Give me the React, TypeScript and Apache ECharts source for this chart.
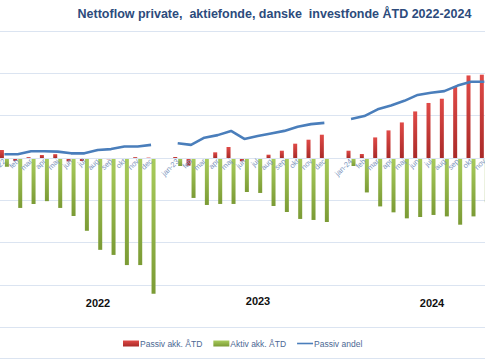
import React, { useEffect, useRef } from "react";
import * as echarts from "echarts";

const months2022 = ["jan-22", "feb", "mar", "apr", "maj", "jun", "jul", "aug", "sep", "okt", "nov", "dec"];
const months2023 = ["jan-23", "feb", "mar", "apr", "maj", "jun", "jul", "aug", "sep", "okt", "nov", "dec"];
const months2024 = ["jan-24", "feb", "mar", "apr", "maj", "jun", "jul", "aug", "sep", "okt", "nov"];

// Passiv akk. ÅTD (mio. kr.)
const passiv2022 = [950, -350, 100, 350, 450, -400, -350, 0, -150, -100, 100, 50];
const passiv2023 = [120, -900, 0, 670, 1300, -390, 0, 390, 860, 1690, 2160, 2750];
const passiv2024 = [860, 470, 2430, 3260, 4200, 5500, 6500, 7000, 8460, 9750, 9840];

// Aktiv akk. ÅTD (mio. kr.)
const aktiv2022 = [-1050, -5900, -5450, -5100, -5900, -6850, -8600, -10850, -11450, -12650, -12650, -16050];
const aktiv2023 = [-950, -4720, -5550, -5430, -5430, -4020, -4130, -5670, -6380, -7200, -7320, -7560];
const aktiv2024 = [-950, -4070, -5720, -6420, -7130, -6970, -6730, -6900, -7880, -6900, -5240];

// Passiv andel (%)
const andel2022 = [40.9, 40.9, 41.6, 41.6, 41.5, 41.1, 41.1, 41.9, 42.1, 42.7, 42.7, 43.1];
const andel2023 = [43.5, 43.1, 44.8, 45.4, 46.4, 44.5, 45.2, 45.8, 46.4, 47.4, 48.0, 48.3];
const andel2024 = [49.2, 49.9, 51.5, 52.4, 53.5, 54.9, 55.4, 55.8, 57.1, 58.0, 58.0];

const yearLabels = ["2022", "2023", "2024"];
const title = "Nettoflow private,  aktiefonde, danske  investfonde ÅTD 2022-2024";

export default function App() {
  const ref = useRef<HTMLDivElement>(null);
  useEffect(() => {
    document.body.style.margin = "0";
    if (!ref.current) return;
    const chart = echarts.init(ref.current, undefined, { renderer: "svg" });
    const categories = [...months2022, " ", ...months2023, "  ", ...months2024];
    const join = (a: number[], b: number[], c: number[]) => [...a, null, ...b, null, ...c];
    const redGrad = new echarts.graphic.LinearGradient(0, 0, 0, 1, [
      { offset: 0, color: "#e04a47" },
      { offset: 1, color: "#a92a28" },
    ]);
    const greenGrad = new echarts.graphic.LinearGradient(0, 0, 0, 1, [
      { offset: 0, color: "#a9cc5c" },
      { offset: 1, color: "#7b9b35" },
    ]);
    const gridColor = "#dbe4f1";
    const gridTop = 31;
    const gridBottom = 32.7;
    const yMin = -20000;
    const yMax = 15000;
    const plotH = 360 - gridTop - gridBottom;
    const zeroOffset = -(plotH * (0 - yMin)) / (yMax - yMin);
    chart.setOption({
      animation: false,
      grid: { left: -2.27, right: -6, top: gridTop, bottom: gridBottom, containLabel: false, outerBoundsMode: "none" },
      xAxis: {
        type: "category",
        data: categories,
        z: 5,
        position: "bottom",
        offset: zeroOffset,
        axisLine: { show: true, onZero: false, lineStyle: { color: gridColor, width: 1 } },
        axisTick: { show: false },
        axisLabel: {
          interval: 0,
          rotate: 45,
          margin: 2,
          fontSize: 7.5,
          color: "#7d96bd",
          fontFamily: "Liberation Sans",
        },
      },
      yAxis: [
        {
          type: "value",
          min: yMin,
          max: yMax,
          interval: 5000,
          axisLine: { show: false },
          axisTick: { show: false },
          axisLabel: { show: false },
          splitLine: { show: true, lineStyle: { color: gridColor, width: 1 } },
        },
        {
          type: "value",
          min: 0,
          max: 70,
          interval: 10,
          show: false,
          splitLine: { show: false },
        },
      ],
      legend: {
        bottom: 7,
        left: 118,
        itemWidth: 16,
        itemHeight: 6,
        itemGap: 11,
        textStyle: { fontSize: 8.5, color: "#4c6894", fontFamily: "Liberation Sans", padding: [0, 0, 0, -4] },
        data: [
          { name: "Passiv akk. ÅTD", icon: "rect" },
          { name: "Aktiv akk. ÅTD", icon: "rect" },
          { name: "Passiv andel", icon: "path://M0,0 L0,0 M0,2.2 L16,2.2 L16,3.8 L0,3.8 Z M16,6 L16,6" },
        ],
      },
      series: [
        {
          name: "Passiv akk. ÅTD",
          type: "bar",
          data: join(passiv2022, passiv2023, passiv2024),
          barWidth: 4,
          barGap: "25%",
          itemStyle: { color: redGrad },
        },
        {
          name: "Aktiv akk. ÅTD",
          type: "bar",
          data: join(aktiv2022, aktiv2023, aktiv2024),
          barWidth: 4,
          barGap: "25%",
          itemStyle: { color: greenGrad },
        },
        {
          name: "Passiv andel",
          type: "line",
          yAxisIndex: 1,
          data: join(andel2022, andel2023, andel2024),
          symbol: "none",
          connectNulls: false,
          z: 4,
          lineStyle: { color: "#4a7ebb", width: 2.6 },
          itemStyle: { color: "#4a7ebb" },
        },
      ],
      graphic: [
        {
          type: "text",
          x: 274.5,
          y: 14,
          style: {
            text: title,
            textAlign: "center",
            textVerticalAlign: "middle",
            fontSize: 12.5,
            fontWeight: "bold",
            fill: "#2c4b7c",
            fontFamily: "Liberation Sans",
          },
        },
        ...yearLabels.map((t, i) => ({
          type: "text",
          x: [98, 258, 432][i],
          y: [303, 300.5, 303][i],
          style: {
            text: t,
            textAlign: "center",
            textVerticalAlign: "middle",
            fontSize: 11,
            fontWeight: "bold",
            fill: "#111",
            fontFamily: "Liberation Sans",
          },
        })),
        {
          type: "line",
          shape: { x1: 0, y1: 358.5, x2: 485, y2: 358.5 },
          style: { stroke: gridColor, lineWidth: 1 },
        },
      ],
    });
    return () => chart.dispose();
  }, []);
  return <div ref={ref} style={{ width: 485, height: 360 }} />;
}
